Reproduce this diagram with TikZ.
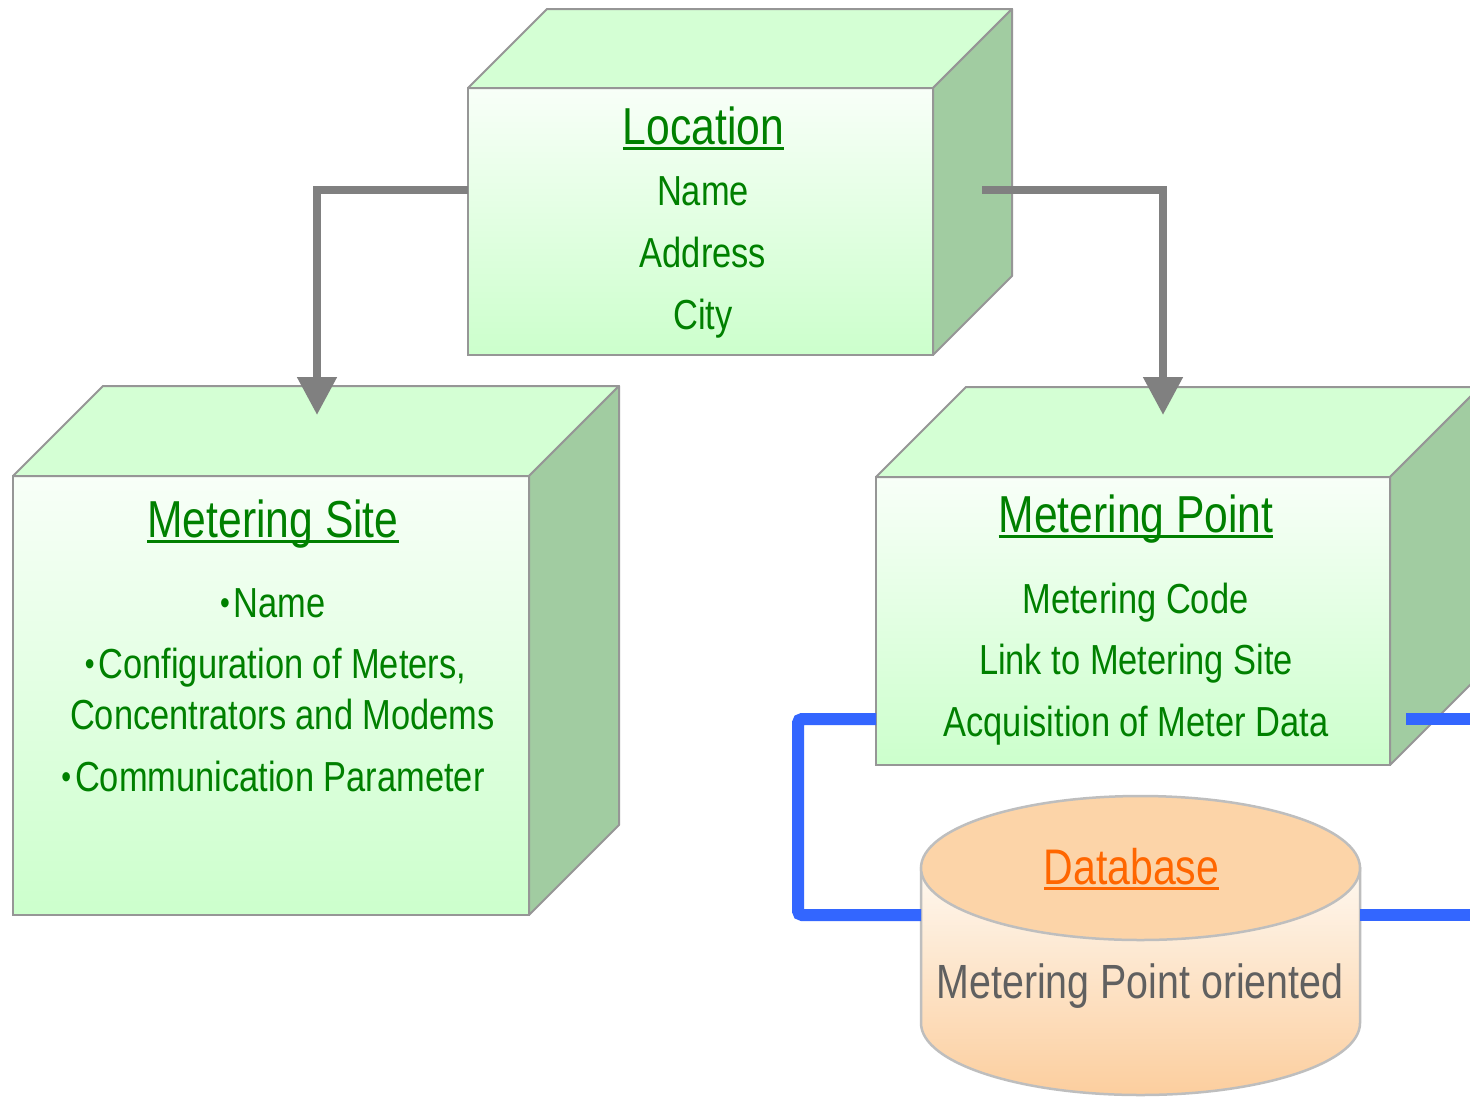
\documentclass[tikz,border=0pt]{standalone}
\usepackage{fontspec}
\setmainfont[FakeStretch=0.82]{Liberation Sans}
\usetikzlibrary{arrows.meta,calc}
\definecolor{txtgreen}{RGB}{0,128,0}
\definecolor{boxgray}{RGB}{150,150,150}
\definecolor{fronttop}{RGB}{248,255,248}
\definecolor{frontbot}{RGB}{204,255,204}
\definecolor{topgreen}{RGB}{212,255,212}
\definecolor{sidegreen}{RGB}{161,204,161}
\definecolor{arrowgray}{RGB}{128,128,128}
\definecolor{linkblue}{RGB}{51,102,255}
\definecolor{dbtop}{RGB}{252,212,168}
\definecolor{dblight}{RGB}{254,248,240}
\definecolor{dbbot}{RGB}{252,206,158}
\definecolor{dbborder}{RGB}{190,190,190}
\definecolor{dborange}{RGB}{255,102,0}
\definecolor{dbtext}{RGB}{96,96,96}
\newcommand\ulin[1]{\setbox0\hbox{#1}\rlap{\rule[-6pt]{\wd0}{3.2pt}}\box0}
\newcommand\bul{\raisebox{2.5pt}{\fontsize{34}{34}\selectfont •}\hspace{4pt}}
\newcommand\boxfaces[2]{%
  \draw[topface] (#1.north west) -- ++(#2,-#2) -- ($(#1.north east)+(#2,-#2)$) -- (#1.north east) -- cycle;
  \draw[sideface] (#1.north east) -- ++(#2,-#2) -- ($(#1.south east)+(#2,-#2)$) -- (#1.south east) -- cycle;}
\tikzset{
  front/.style={draw=boxgray, line width=2pt, top color=fronttop, bottom color=frontbot, inner sep=0pt, outer sep=0pt},
  topface/.style={draw=boxgray, line width=2pt, fill=topgreen, line join=round},
  sideface/.style={draw=boxgray, line width=2pt, fill=sidegreen, line join=round},
  ttl/.style={text=txtgreen, font=\fontsize{52}{60}\selectfont, inner sep=0pt, anchor=base},
  bodytxt/.style={text=txtgreen, font=\fontsize{42}{50}\selectfont, inner sep=0pt, anchor=base},
  grayarrow/.style={draw=arrowgray, line width=8pt, -{Triangle[width=38pt,length=38pt]}},
  blueline/.style={draw=linkblue, line width=12pt, rounded corners=4pt},
}
\begin{document}
\begin{tikzpicture}[x=1pt,y=-1pt]
\useasboundingbox (0,0) rectangle (1470,1096);
\clip (0,0) rectangle (1470,1096);
\fill[white] (0,0) rectangle (1470,1096);

% Location box
\node[front, minimum width=465, minimum height=267] (loc) at (700.5,221.5) {};
\boxfaces{loc}{79}
% Metering Site box
\node[front, minimum width=516, minimum height=439] (ms) at (271,695.5) {};
\boxfaces{ms}{90}
% Metering Point box
\node[front, minimum width=514, minimum height=288] (mp) at (1133,621) {};
\boxfaces{mp}{90}

% Database cylinder
\node[inner sep=0pt, outer sep=0pt, minimum width=439, minimum height=300] (db) at (1140.5,946) {};
\draw[draw=dbborder, line width=2.5pt, top color=dblight, bottom color=dbbot]
  (921,868) -- (921,1023) arc[start angle=180, end angle=360, x radius=219.5pt, y radius=72pt] -- (1360,868) -- cycle;
\draw[draw=dbborder, line width=2.5pt, fill=dbtop] (1140.5,868) ellipse[x radius=219.5pt, y radius=72pt];

% helper coordinates
\coordinate (yG) at (0,190);
\coordinate (msIn) at (317,415);
\coordinate (mpIn) at (1163,415);
\coordinate (locR) at (982,190);
\coordinate (yB1) at (0,719);
\coordinate (yB2) at (0,915);
\coordinate (bcorner) at (798,0);
\coordinate (offR1) at (1475,719);
\coordinate (offR2) at (1475,915);
\coordinate (mpR) at (1406,719);

% blue links
\draw[blueline] (mp.west |- yB1) -- (bcorner |- yB1) -- (bcorner |- yB2) -- (db.west |- yB2);
\draw[blueline] (mpR) -- (offR1);
\draw[blueline] (db.east |- yB2) -- (offR2);

% gray arrows
\draw[grayarrow] (loc.west |- yG) -| (msIn);
\draw[grayarrow] (locR) -| (mpIn);

% texts: Location
\node[ttl] (locT) at (703.5,144) {\ulin{Location}};
\node[bodytxt] (loc1) at (703,205) {Name};
\node[bodytxt] (loc2) at (703,267) {Address};
\node[bodytxt] (loc3) at (703,329) {City};

% texts: Metering Site
\node[ttl] (msT) at (273,537) {\ulin{Metering Site}};
\node[bodytxt] (ms1) at (273,617) {\bul Name};
\node[bodytxt] (ms2) at (275.5,678) {\bul Configuration of Meters,};
\node[bodytxt] (ms3) at (282.5,729) {Concentrators and Modems};
\node[bodytxt] (ms4) at (273,791) {\bul Communication Parameter};

% texts: Metering Point
\node[ttl] (mpT) at (1136,532) {\ulin{Metering Point}};
\node[bodytxt] (mp1) at (1135.5,613) {Metering Code};
\node[bodytxt] (mp2) at (1136,674) {Link to Metering Site};
\node[bodytxt] (mp3) at (1136,736) {Acquisition of Meter Data};

% texts: Database
\node[text=dborange, font=\fontsize{50}{58}\selectfont, inner sep=0pt, anchor=base] (dbT) at (1131.5,884) {\ulin{Database}};
\node[text=dbtext, font=\fontsize{48}{56}\selectfont, inner sep=0pt, anchor=base] (db1) at (1140,998) {Metering Point oriented};
\end{tikzpicture}
\end{document}
